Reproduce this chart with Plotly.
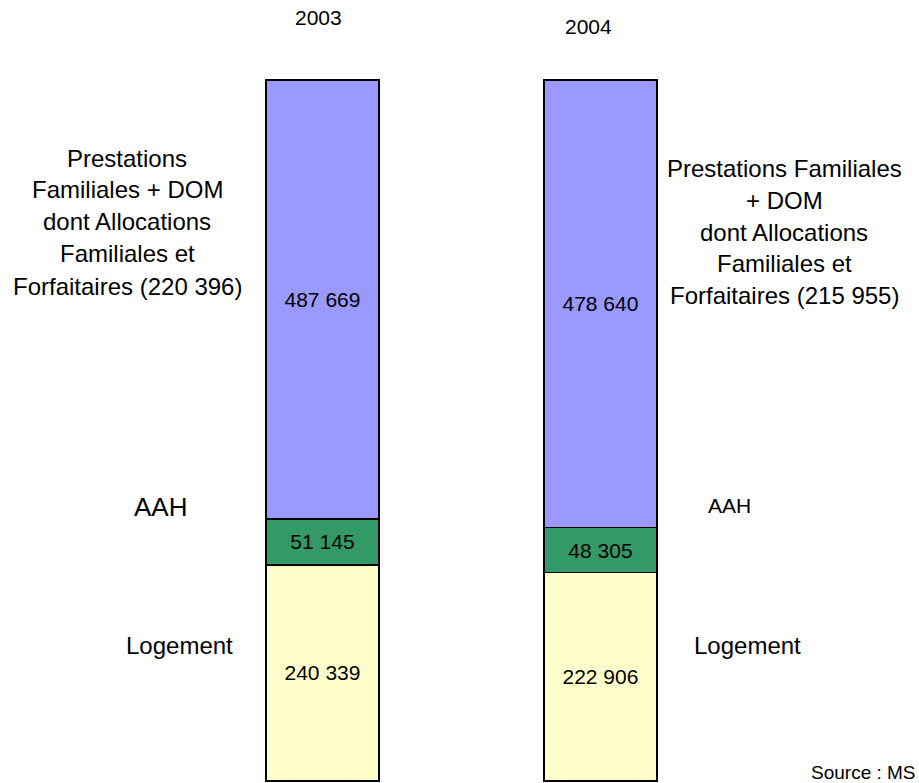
import plotly.graph_objects as go

years = ["2003", "2004"]
logement = [240339, 222906]
aah = [51145, 48305]
prestations = [487669, 478640]
pf_dont = ["220 396", "215 955"]

W, H = 919, 783

def fmt(v):
    return f"{v:,}".replace(",", " ")

series = [
    ("Logement", logement, "#FFFFCC"),
    ("AAH", aah, "#339966"),
    ("Prestations Familiales + DOM", prestations, "#9999FF"),
]

fig = go.Figure()
for name, vals, col in series:
    fig.add_trace(go.Bar(
        x=years, y=vals, name=name,
        marker=dict(color=col, line=dict(color="black", width=1.5)),
        width=0.4065,
        text=[fmt(v) for v in vals],
        textposition="inside",
        insidetextanchor="middle",
        constraintext="none",
        textfont=dict(family="Liberation Sans, Arial", size=21, color="black"),
        hoverinfo="skip",
    ))

def px(x):
    return x / W

def py(y):
    return 1 - y / H

font = "Liberation Sans, Arial"
ann = []
# year labels
ann.append(dict(x=px(318), y=py(17), text=years[0], font=dict(size=21)))
ann.append(dict(x=px(588), y=py(27), text=years[1], font=dict(size=21)))

left_lines = ["Prestations", "Familiales + DOM", "dont Allocations", "Familiales et",
              f"Forfaitaires ({pf_dont[0]})"]
left_y = [158, 190, 222, 254, 286]
for t, yy in zip(left_lines, left_y):
    ann.append(dict(x=px(127), y=py(yy), text=t, font=dict(size=24)))

right_lines = ["Prestations Familiales", "+ DOM", "dont Allocations", "Familiales et",
               f"Forfaitaires ({pf_dont[1]})"]
right_y = [168, 200, 232, 264, 296]
for t, yy in zip(right_lines, right_y):
    ann.append(dict(x=px(784), y=py(yy), text=t, font=dict(size=24)))

ann.append(dict(x=px(160), y=py(507), text="AAH", font=dict(size=26)))
ann.append(dict(x=px(729), y=py(505), text="AAH", font=dict(size=21)))
ann.append(dict(x=px(179), y=py(645), text="Logement", font=dict(size=24)))
ann.append(dict(x=px(747), y=py(645), text="Logement", font=dict(size=24)))
ann.append(dict(x=px(918), y=py(772), text="Source : MS", xanchor="right",
                font=dict(size=19)))

for a in ann:
    a.setdefault("xanchor", "center")
    a["yanchor"] = "middle"
    a["xref"] = "paper"
    a["yref"] = "paper"
    a["showarrow"] = False
    a["font"]["family"] = font
    a["font"]["color"] = "black"

fig.update_layout(
    width=W, height=H,
    margin=dict(l=0, r=0, t=0, b=0),
    barmode="stack", barnorm="percent",
    showlegend=False,
    plot_bgcolor="white", paper_bgcolor="white",
    xaxis=dict(visible=False, range=[-1.160, 2.146], type="category"),
    yaxis=dict(visible=False, range=[-0.285, 111.41]),
    annotations=ann,
    hovermode=False,
)

fig.write_html(
    "out.html",
    config={"displayModeBar": False, "staticPlot": True},
    post_script="document.body.style.margin='0';document.body.style.overflow='hidden';",
)
